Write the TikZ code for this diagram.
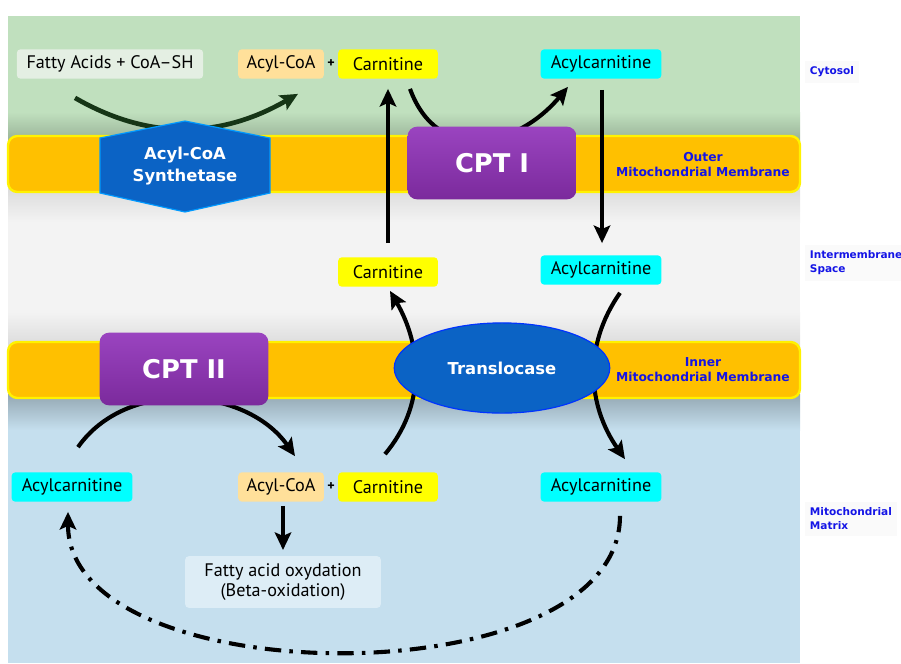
\documentclass[tikz,border=0pt]{standalone}
\usepackage{fontspec}
\setmainfont{PT Sans}
\newfontfamily\heavyfont{DejaVu Sans}
\usetikzlibrary{arrows.meta,shapes.geometric,calc}

\definecolor{cytogreen}{HTML}{C0E0BE}
\definecolor{imsgray}{HTML}{F3F3F3}
\definecolor{matrixblue}{HTML}{C5DFEE}
\definecolor{membrane}{HTML}{FFC000}
\definecolor{membraneedge}{HTML}{FFF200}
\definecolor{cptpurple}{HTML}{7B2A9C}
\definecolor{cpttop}{HTML}{9A44C0}
\definecolor{enzblue}{HTML}{0B63C5}
\definecolor{acylorange}{HTML}{FFE09A}
\definecolor{acylcyan}{HTML}{00FFFF}
\definecolor{carnyellow}{HTML}{FFFF00}
\definecolor{labelblue}{HTML}{1414E6}
\definecolor{arrowgreen}{HTML}{163516}
\definecolor{palegreen}{HTML}{E4EFE3}
\definecolor{paleblue}{HTML}{DDEDF6}

\tikzset{
  box/.style={rounded corners=3pt, minimum height=25pt, inner sep=0pt,
    font=\fontsize{15.5}{17.5}\selectfont},
  plus/.style={inner sep=0pt, font=\bfseries\fontsize{12}{14}\selectfont},
  cpt/.style={rounded corners=8pt, top color=cpttop, bottom color=cptpurple,
    minimum width=144pt, minimum height=62pt, text=white,
    font=\heavyfont\bfseries\fontsize{22}{24}\selectfont},
  hexa/.style={fill=enzblue, draw=blue!40!cyan, line width=1pt},
  enzlabel/.style={text=white, align=center,
    font=\heavyfont\bfseries\fontsize{14}{18}\selectfont},
  transl/.style={ellipse, fill=enzblue, draw=blue!80!cyan, line width=1pt,
    minimum width=184pt, minimum height=77pt, inner sep=0pt, enzlabel},
  memlabel/.style={text=labelblue, align=center,
    font=\heavyfont\bfseries\fontsize{10.5}{12.8}\selectfont},
  sidelabel/.style={anchor=west, align=left, fill=black!2, text=labelblue,
    inner xsep=4pt, inner ysep=5pt,
    font=\heavyfont\bfseries\fontsize{9}{12}\selectfont},
  flow/.style={line width=3.5pt, -{Stealth[length=15pt,width=14pt,inset=3pt]}},
}

\begin{document}
\begin{tikzpicture}[x=0.03cm, y=0.03cm]
  \useasboundingbox (0,0) rectangle (901,-663);

  % compartments
  \fill[cytogreen] (8,-16) rectangle (800,-140);
  \shade[top color=cytogreen, bottom color=cytogreen!80!black] (8,-112) rectangle (800,-140);
  \fill[imsgray] (8,-188) rectangle (800,-346);
  \shade[top color=black!14, bottom color=imsgray] (8,-188) rectangle (800,-222);
  \shade[top color=imsgray, bottom color=black!14] (8,-312) rectangle (800,-346);
  \fill[matrixblue] (8,-394) rectangle (800,-663);
  \shade[top color=matrixblue!75!black, bottom color=matrixblue] (8,-394) rectangle (800,-430);

  % membranes
  \filldraw[fill=membrane, draw=membraneedge, line width=2pt, rounded corners=8pt] (8,-136) rectangle (800,-192);
  \filldraw[fill=membrane, draw=membraneedge, line width=2pt, rounded corners=8pt] (8,-342) rectangle (800,-398);

  % metabolites
  \node[box, fill=palegreen, minimum width=159pt] (fa) at (110,-64) {Fatty Acids + CoA–SH};
  \node[box, fill=acylorange, minimum width=73pt] (acyl1) at (281,-64) {Acyl-CoA};
  \node[plus] (p1) at (331,-64) {+};
  \node[box, fill=carnyellow, minimum width=85pt] (carn1) at (388,-64) {Carnitine};
  \node[box, fill=acylcyan, minimum width=103pt] (acar1) at (601,-64) {Acylcarnitine};

  \node[box, fill=carnyellow, minimum width=85pt] (carn2) at (388,-272) {Carnitine};
  \node[box, fill=acylcyan, minimum width=103pt] (acar2) at (601,-270) {Acylcarnitine};

  \node[box, fill=acylcyan, minimum width=103pt] (acar4) at (72,-487) {Acylcarnitine};
  \node[box, fill=acylorange, minimum width=73pt] (acyl2) at (281,-487) {Acyl-CoA};
  \node[plus] (p2) at (331,-487) {+};
  \node[box, fill=carnyellow, minimum width=85pt] (carn3) at (388,-487) {Carnitine};
  \node[box, fill=acylcyan, minimum width=103pt] (acar3) at (601,-487) {Acylcarnitine};

  \node[box, fill=paleblue, minimum width=167pt, minimum height=44pt, align=center] (betaox) at (283,-582)
    {Fatty acid oxydation\\(Beta-oxidation)};

  % reactions
  \draw[flow, arrowgreen, line width=4pt] ($(fa.south)+(-35,-19)$) to[out=-30,in=-150] ($(acyl1.south)+(17,-15)$);
  \draw[flow] ($(carn2.north)+(0,14)$) -- ($(carn1.south)+(0,-10)$);
  \draw[flow] ($(carn1.south)+(22,-10)$) to[out=-70,in=-130,looseness=1.3] ($(acar1.south)+(-33,-8)$);
  \draw[flow] ($(acar1.south)+(1,-11)$) -- ($(acar2.north)+(1,12)$);
  \draw[flow] ($(acar2.south)+(19,-8)$) to[out=-125,in=125] ($(acar3.north)+(24,13)$);
  \draw[flow] ($(carn3.north)+(-3,18)$) to[out=50,in=-60] ($(carn2.south)+(2,-4)$);
  \draw[flow] ($(acar4.north)+(6,25)$) to[out=55,in=125] ($(acyl2.north)+(14,16)$);
  \draw[flow] ($(acyl2.south)+(2,-4)$) -- ($(betaox.north)+(0,6)$);
  \draw[flow, dash pattern=on 14pt off 7pt on 3pt off 7pt] ($(acar3.south)+(19,-14)$)
    to[out=-90,in=-90,looseness=0.85] ($(acar4.south)+(-4,-10)$);

  % enzymes
  \draw[hexa] (100,-138) -- (185,-121) -- (270,-138) -- (270,-193) -- (185,-212) -- (100,-193) -- cycle;
  \node[enzlabel] (acs) at (185,-166) {Acyl-CoA\\Synthetase};
  \node[cpt] (cpt1) at (492,-163) {CPT I};
  \node[cpt] (cpt2) at (184,-369) {CPT II};
  \node[transl] (tl) at (502,-368) {Translocase};

  % labels
  \node[memlabel] (outer) at (703,-165) {Outer\\Mitochondrial Membrane};
  \node[memlabel] (inner) at (703,-370) {Inner\\Mitochondrial Membrane};
  \node[sidelabel] (cyto) at (805,-72) {Cytosol};
  \node[sidelabel] (ims) at (805,-263) {Intermembrane\\Space};
  \node[sidelabel] (mat) at (805,-519) {Mitochondrial\\Matrix};
\end{tikzpicture}
\end{document}
